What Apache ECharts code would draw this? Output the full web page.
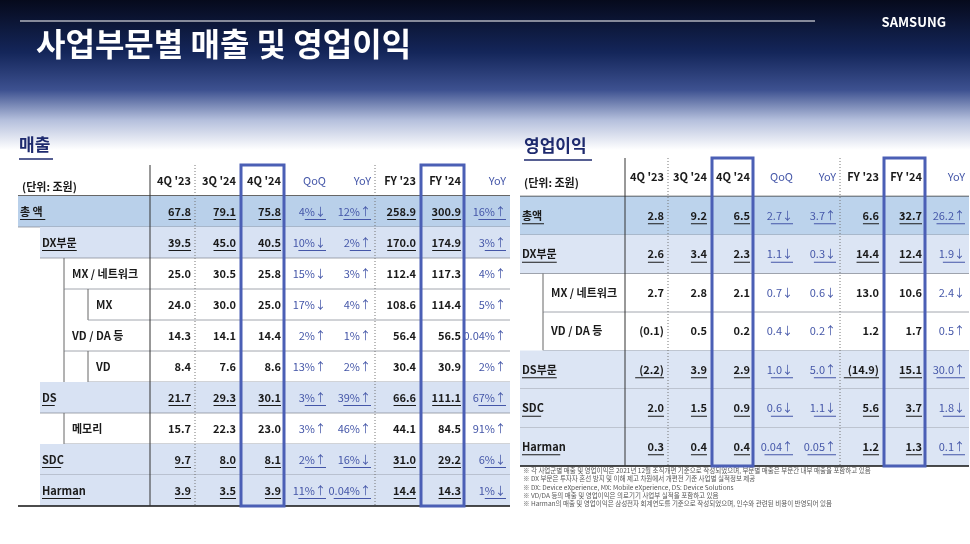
<!DOCTYPE html>
<html><head><meta charset="utf-8">
<script src="https://cdn.jsdelivr.net/npm/echarts@6/dist/echarts.min.js"></script>
<style>html,body{margin:0;padding:0;background:#fff}#c{width:970px;height:544px}</style>
</head><body><div id="c"></div>
<script>
// 컬럼 헤더
var colNames = ["4Q '23", "3Q '24", "4Q '24", "QoQ", "YoY", "FY '23", "FY '24", "YoY"];
var unitLabel = "(단위: 조원)";

// 매출
var labelsL = ["총 액", "DX부문", "MX / 네트워크", "MX", "VD / DA 등", "VD", "DS", "메모리", "SDC", "Harman"];
var levelsL = [0, 1, 2, 3, 2, 3, 1, 2, 1, 1];
var q423L = [67.8, 39.5, 25.0, 24.0, 14.3, 8.4, 21.7, 15.7, 9.7, 3.9];
var q324L = [79.1, 45.0, 30.5, 30.0, 14.1, 7.6, 29.3, 22.3, 8.0, 3.5];
var q424L = [75.8, 40.5, 25.8, 25.0, 14.4, 8.6, 30.1, 23.0, 8.1, 3.9];
var qoqL = ['4%↓', '10%↓', '15%↓', '17%↓', '2%↑', '13%↑', '3%↑', '3%↑', '2%↑', '11%↑'];
var yoyQL = ['12%↑', '2%↑', '3%↑', '4%↑', '1%↑', '2%↑', '39%↑', '46%↑', '16%↓', '0.04%↑'];
var fy23L = [258.9, 170.0, 112.4, 108.6, 56.4, 30.4, 66.6, 44.1, 31.0, 14.4];
var fy24L = [300.9, 174.9, 117.3, 114.4, 56.5, 30.9, 111.1, 84.5, 29.2, 14.3];
var yoyFL = ['16%↑', '3%↑', '4%↑', '5%↑', '0.04%↑', '2%↑', '67%↑', '91%↑', '6%↓', '1%↓'];

// 영업이익
var labelsR = ["총액", "DX부문", "MX / 네트워크", "VD / DA 등", "DS부문", "SDC", "Harman"];
var levelsR = [0, 1, 2, 2, 1, 1, 1];
var q423R = [2.8, 2.6, 2.7, -0.1, -2.2, 2.0, 0.3];
var q324R = [9.2, 3.4, 2.8, 0.5, 3.9, 1.5, 0.4];
var q424R = [6.5, 2.3, 2.1, 0.2, 2.9, 0.9, 0.4];
var qoqR = ['2.7↓', '1.1↓', '0.7↓', '0.4↓', '1.0↓', '0.6↓', '0.04↑'];
var yoyQR = ['3.7↑', '0.3↓', '0.6↓', '0.2↑', '5.0↑', '1.1↓', '0.05↑'];
var fy23R = [6.6, 14.4, 13.0, 1.2, -14.9, 5.6, 1.2];
var fy24R = [32.7, 12.4, 10.6, 1.7, 15.1, 3.7, 1.3];
var yoyFR = ['26.2↑', '1.9↓', '2.4↓', '0.5↑', '30.0↑', '1.8↓', '0.1↑'];

var notes = [
  "※ 각 사업군별 매출 및 영업이익은 2021년 12월 조직개편 기준으로 작성되었으며, 부문별 매출은 부문간 내부 매출을 포함하고 있음",
  "※ DX 부문은 투자자 혼선 방지 및 이해 제고 차원에서 개편전 기준 사업별 실적정보 제공",
  "※ DX: Device eXperience, MX: Mobile eXperience, DS: Device Solutions",
  "※ VD/DA 등의 매출 및 영업이익은 의료기기 사업부 실적을 포함하고 있음",
  "※ Harman의 매출 및 영업이익은 삼성전자 회계연도를 기준으로 작성되었으며, 인수와 관련된 비용이 반영되어 있음"
];

var FONT = '"Noto Sans CJK KR", "Noto Sans", sans-serif';
var DARK = '#1a1a1a', BLUE = '#4456a8', BOX = '#4b5fb5';

function fmt(v) {
  return v < 0 ? '(' + (-v).toFixed(1) + ')' : v.toFixed(1);
}

function cellData(cols, levels) {
  var out = [];
  for (var c = 0; c < colNames.length; c++) out.push([c, 0, colNames[c], -1]);
  for (var r = 0; r < levels.length; r++) {
    for (var c = 0; c < cols.length; c++) {
      var v = cols[c][r];
      out.push([c, r + 1, typeof v === 'number' ? fmt(v) : v, levels[r]]);
    }
  }
  return out;
}

function rowData(labels, levels) {
  var out = [[0, 0, unitLabel, -1]];
  for (var r = 0; r < labels.length; r++) out.push([0, r + 1, labels[r], levels[r]]);
  return out;
}

// 밑줄 길이용 대충 폭 계산
function textW(s, size) {
  var w = 0;
  for (var i = 0; i < s.length; i++) {
    var code = s.charCodeAt(i);
    if (code >= 0xAC00) w += size;
    else if (code > 255) w += size * 0.55;
    else if (s[i] === '.' || s[i] === ' ') w += size * 0.3;
    else if (s[i] === '%') w += size * 0.8;
    else w += size * 0.58;
  }
  return w;
}

function makeRows(labelW, indents, bg0, bg1, nRows) {
  return function (params, api) {
    var r = api.value(1), lvl = api.value(3), txt = api.value(2);
    var p = api.coord([0, r]);
    var cw = api.size([1, 0])[0], ch = api.size([0, 1])[1];
    var gl = p[0] - cw / 2, gr = gl + cw * colNames.length;
    var top = p[1] - ch / 2, bot = top + ch;
    var tableL = gl - labelW;
    var kids = [];
    if (lvl < 0) {
      kids.push({type: 'text', style: {x: tableL + 4, y: p[1] + 6, text: txt, font: 'bold 11px ' + FONT, fill: DARK, verticalAlign: 'middle'}});
      kids.push({type: 'line', shape: {x1: tableL, y1: bot, x2: gr, y2: bot}, style: {stroke: '#333', lineWidth: 1.5}});
      return {type: 'group', children: kids};
    }
    var x0 = tableL + indents[lvl];
    if (lvl <= 1) {
      kids.push({type: 'rect', shape: {x: x0, y: top, width: gr - x0, height: ch}, style: {fill: lvl === 0 ? bg0 : bg1}});
    }
    for (var l = 2; l <= lvl; l++) {
      kids.push({type: 'line', shape: {x1: tableL + indents[l], y1: top, x2: tableL + indents[l], y2: bot}, style: {stroke: '#666', lineWidth: 1}});
    }
    var last = r === nRows;
    kids.push({type: 'line', shape: {x1: last ? tableL : x0, y1: bot, x2: gr, y2: bot},
      style: {stroke: last ? '#111' : '#8a8f99', lineWidth: last ? 1.5 : 0.8}});
    var tx = x0 + (lvl >= 2 ? 8 : 2);
    kids.push({type: 'text', style: {x: tx, y: p[1], text: txt, font: 'bold 11px ' + FONT, fill: DARK, verticalAlign: 'middle'}});
    if (lvl <= 1) {
      var w = textW(txt, 11);
      kids.push({type: 'line', shape: {x1: tx, y1: p[1] + 8, x2: tx + w, y2: p[1] + 8}, style: {stroke: DARK, lineWidth: 1}});
    }
    return {type: 'group', children: kids};
  };
}

function makeCells(nRows) {
  return function (params, api) {
    var c = api.value(0), r = api.value(1), lvl = api.value(3), txt = api.value(2);
    var p = api.coord([c, r]);
    var cw = api.size([1, 0])[0], ch = api.size([0, 1])[1];
    var right = p[0] + cw / 2 - 4;
    var isChg = c === 3 || c === 4 || c === 7;
    var kids = [];
    var top = p[1] - ch / 2;
    var font = (isChg ? 'normal ' : 'bold ') + '11px ' + FONT;
    if (lvl < 0) {
      var H = ch * (nRows + 1);
      var left = p[0] - cw / 2;
      if (c === 0) kids.push({type: 'line', shape: {x1: left, y1: top, x2: left, y2: top + H}, style: {stroke: '#333', lineWidth: 1}});
      if (c === 1 || c === 5) kids.push({type: 'line', shape: {x1: left, y1: top, x2: left, y2: top + H}, style: {stroke: '#777', lineWidth: 1, lineDash: [1, 2]}});
      if (c === 2 || c === 6) kids.push({type: 'rect', shape: {x: left + 1, y: top, width: cw - 2, height: H}, style: {fill: 'none', stroke: BOX, lineWidth: 3}, z2: 10});
    }
    kids.push({type: 'text', style: {x: right, y: p[1], text: txt, align: 'right', verticalAlign: 'middle', font: font, fill: isChg ? BLUE : DARK}});
    if (lvl >= 0 && lvl <= 1) {
      var w = textW(txt, 11);
      kids.push({type: 'line', shape: {x1: right - w, y1: p[1] + 8, x2: right, y2: p[1] + 8}, style: {stroke: isChg ? BLUE : DARK, lineWidth: 1}});
    }
    return {type: 'group', children: kids};
  };
}

function yCats(n) { var a = []; for (var i = 0; i <= n; i++) a.push(i); return a; }

var chart = echarts.init(document.getElementById('c'));
var option = {
  animation: false,
  grid: [
    {left: 150, top: 165, width: 360, height: 341},
    {left: 625, top: 158, width: 344, height: 308}
  ],
  xAxis: [
    {gridIndex: 0, type: 'category', data: colNames, show: false},
    {gridIndex: 1, type: 'category', data: colNames, show: false}
  ],
  yAxis: [
    {gridIndex: 0, type: 'category', data: yCats(labelsL.length), inverse: true, show: false},
    {gridIndex: 1, type: 'category', data: yCats(labelsR.length), inverse: true, show: false}
  ],
  graphic: [
    {type: 'rect', z: -10, shape: {x: 0, y: 0, width: 970, height: 150},
      style: {fill: new echarts.graphic.LinearGradient(0, 0, 0, 1, [
        {offset: 0, color: '#060a1c'}, {offset: 0.35, color: '#14265a'}, {offset: 0.6, color: '#3d5190'},
        {offset: 0.8, color: '#b4bfdc'}, {offset: 1, color: '#ffffff'}])}},
    {type: 'line', shape: {x1: 20, y1: 21, x2: 815, y2: 21}, style: {stroke: '#ffffff', lineWidth: 1.2}},
    {type: 'text', left: 36, top: 28, style: {text: '사업부문별 매출 및 영업이익', font: 'bold 32px ' + FONT, fill: '#ffffff'}},
    {type: 'text', right: 24, top: 16, style: {text: 'SAMSUNG', font: 'bold 13px ' + FONT, fill: '#ffffff'}},
    {type: 'text', left: 19, top: 136, style: {text: '매출', font: 'bold 17px ' + FONT, fill: '#1e2a6e'}},
    {type: 'line', shape: {x1: 19, y1: 159, x2: 53, y2: 159}, style: {stroke: '#1e2a6e', lineWidth: 1.5}},
    {type: 'text', left: 524, top: 137, style: {text: '영업이익', font: 'bold 17px ' + FONT, fill: '#1e2a6e'}},
    {type: 'line', shape: {x1: 524, y1: 160, x2: 592, y2: 160}, style: {stroke: '#1e2a6e', lineWidth: 1.5}}
  ].concat(notes.map(function (t, i) {
    return {type: 'text', left: 523, top: 467 + i * 8.4, style: {text: t, font: '6.5px ' + FONT, fill: '#555'}};
  })),
  series: [
    {type: 'custom', xAxisIndex: 0, yAxisIndex: 0, clip: false, data: rowData(labelsL, levelsL),
      renderItem: makeRows(132, [0, 22, 46, 70], '#b9d0ea', '#d8e2f3', labelsL.length)},
    {type: 'custom', xAxisIndex: 0, yAxisIndex: 0, clip: false,
      data: cellData([q423L, q324L, q424L, qoqL, yoyQL, fy23L, fy24L, yoyFL], levelsL),
      renderItem: makeCells(labelsL.length)},
    {type: 'custom', xAxisIndex: 1, yAxisIndex: 1, clip: false, data: rowData(labelsR, levelsR),
      renderItem: makeRows(105, [0, 0, 23, 46], '#bcd3ec', '#dce5f4', labelsR.length)},
    {type: 'custom', xAxisIndex: 1, yAxisIndex: 1, clip: false,
      data: cellData([q423R, q324R, q424R, qoqR, yoyQR, fy23R, fy24R, yoyFR], levelsR),
      renderItem: makeCells(labelsR.length)}
  ]
};
chart.setOption(option);
</script>
</body></html>
